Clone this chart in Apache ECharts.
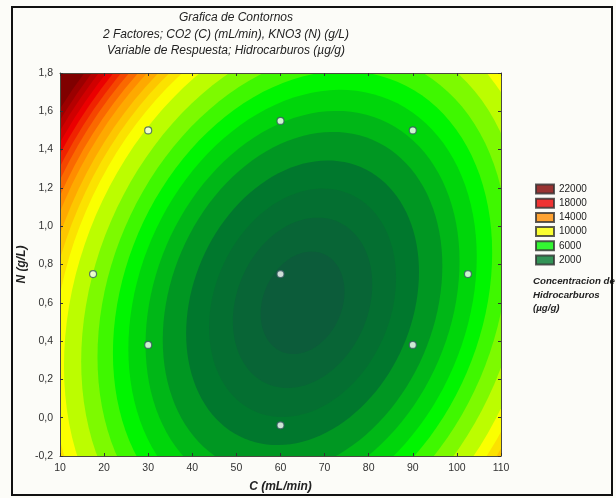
<!DOCTYPE html>
<html>
<head>
<meta charset="utf-8">
<script src="https://cdn.jsdelivr.net/npm/echarts@6/dist/echarts.min.js"></script>
<style>
  html, body { margin: 0; padding: 0; background: #ffffff; }
  #chart { width: 616px; height: 498px; }
</style>
</head>
<body>
<div id="chart"></div>
<script>
// Experimental design points: CO2 flow C (mL/min) and KNO3 dose N (g/L)
const designC = [30, 60, 90, 17.5, 60, 102.5, 30, 90, 60];
const designN = [1.50, 1.55, 1.50, 0.75, 0.75, 0.75, 0.38, 0.38, -0.04];

// Contour levels of the hydrocarbon response (µg/g) and the half-width of each
// contour ellipse, measured along C (mL/min)
const contourLevels = [0, 1000, 2000, 3000, 4000, 5000, 6000, 7000, 8000, 9000, 10000,
  11000, 12000, 13000, 14000, 15000, 16000, 17000, 18000, 19000, 20000, 21000, 22000];
const contourReach = [9.5, 15.8, 21.2, 26.4, 31.7, 35.6, 39.5, 43.0, 46.5, 50.2, 54.1,
  56.7, 58.7, 60.5, 62.4, 63.9, 65.5, 66.9, 68.3, 69.6, 71.0, 72.3, 73.7];

// Shared shape of the nested contour ellipses
const contourCenter = [65, 0.6];       // (C, N) of the minimum
const contourHeightPerReach = 0.02815; // N half-height per unit of C half-width
const contourPhaseDeg = 77.5;          // tilt phase of the ellipses

// Legend levels
const legendLevels = [22000, 18000, 14000, 10000, 6000, 2000];

// Colour scale anchors (value -> rgb)
const colorStops = [-1000, 2000, 6000, 10000, 14000, 18000, 22000];
const colorRGB = [[12, 92, 58], [0, 120, 45], [0, 245, 0], [250, 255, 0],
  [255, 140, 0], [235, 0, 0], [128, 0, 0]];

function colorAt(v) {
  if (v <= colorStops[0]) return rgb(colorRGB[0]);
  for (let i = 1; i < colorStops.length; i++) {
    if (v <= colorStops[i]) {
      const f = (v - colorStops[i - 1]) / (colorStops[i] - colorStops[i - 1]);
      const a = colorRGB[i - 1], b = colorRGB[i];
      return rgb([a[0] + (b[0] - a[0]) * f, a[1] + (b[1] - a[1]) * f, a[2] + (b[2] - a[2]) * f]);
    }
  }
  return rgb(colorRGB[colorRGB.length - 1]);
}
function rgb(c) {
  return 'rgb(' + Math.round(c[0]) + ',' + Math.round(c[1]) + ',' + Math.round(c[2]) + ')';
}

const FONT = '"Liberation Sans", Arial, sans-serif';
const chart = echarts.init(document.getElementById('chart'), null, { renderer: 'canvas' });

// Outer contours first so that inner ones paint over them
const contourData = contourLevels
  .map((lv, i) => [contourReach[i], contourCenter[1], lv])
  .sort((a, b) => b[2] - a[2]);

const axisLineStyle = { show: true, onZero: false, lineStyle: { color: '#4a4a40', width: 1 } };
const tickStyle = { show: true, inside: true, length: 3, lineStyle: { color: '#333', width: 1 } };
const axisNameStyle = { fontFamily: FONT, fontSize: 12, fontStyle: 'italic', fontWeight: 'bold', color: '#222' };

const legendSeries = legendLevels.map(lv => ({
  name: String(lv),
  type: 'scatter',
  data: [],
  itemStyle: { color: colorAt(lv), borderColor: '#333', borderWidth: 0.8 }
}));

const titleFont = 'italic 12px ' + FONT;
const captionFont = 'italic bold 9.7px ' + FONT;

const option = {
  animation: false,
  backgroundColor: '#fcfcf8',
  grid: {
    left: 60, top: 73, right: 115, bottom: 40,
    show: true, backgroundColor: colorAt(22000), borderWidth: 0
  },
  xAxis: [
    {
      type: 'value', position: 'bottom', min: 10, max: 110, interval: 10, z: 5,
      axisLine: axisLineStyle, axisTick: tickStyle, splitLine: { show: false },
      axisLabel: { fontFamily: FONT, fontSize: 10.5, color: '#333', margin: 7 },
      name: 'C (mL/min)', nameLocation: 'middle', nameGap: 25, nameMoveOverlap: false,
      nameTextStyle: axisNameStyle
    },
    {
      type: 'value', position: 'top', min: 10, max: 110, interval: 10, z: 5,
      axisLine: axisLineStyle, axisTick: tickStyle, splitLine: { show: false },
      axisLabel: { show: false }
    }
  ],
  yAxis: [
    {
      type: 'value', position: 'left', min: -0.2, max: 1.8, interval: 0.2, z: 5,
      axisLine: axisLineStyle, axisTick: tickStyle, splitLine: { show: false },
      axisLabel: {
        fontFamily: FONT, fontSize: 10.5, color: '#333', margin: 7,
        formatter: v => v.toFixed(1).replace('.', ',')
      },
      name: 'N (g/L)', nameLocation: 'middle', nameGap: 32, nameRotate: 90, nameMoveOverlap: false,
      nameTextStyle: axisNameStyle
    },
    {
      type: 'value', position: 'right', min: -0.2, max: 1.8, interval: 0.2, z: 5,
      axisLine: axisLineStyle, axisTick: tickStyle, splitLine: { show: false },
      axisLabel: { show: false }
    }
  ],
  legend: {
    orient: 'vertical', left: 535, top: 183.5, padding: 0,
    itemWidth: 18, itemHeight: 9, itemGap: 3.2,
    icon: 'rect', selectedMode: false,
    data: legendLevels.map(String),
    textStyle: { fontFamily: FONT, fontSize: 10, color: '#222' }
  },
  graphic: [
    {
      type: 'group', silent: true, children: [
        { type: 'text', x: 236, y: 18, style: { text: 'Grafica de Contornos', font: titleFont, fill: '#222', align: 'center', verticalAlign: 'middle' } },
        { type: 'text', x: 226, y: 35, style: { text: '2 Factores; CO2 (C) (mL/min), KNO3 (N) (g/L)', font: titleFont, fill: '#222', align: 'center', verticalAlign: 'middle' } },
        { type: 'text', x: 226, y: 51, style: { text: 'Variable de Respuesta; Hidrocarburos (µg/g)', font: titleFont, fill: '#222', align: 'center', verticalAlign: 'middle' } },
        { type: 'text', x: 533, y: 281, style: { text: 'Concentracion de', font: captionFont, fill: '#222', verticalAlign: 'middle' } },
        { type: 'text', x: 533, y: 295, style: { text: 'Hidrocarburos', font: captionFont, fill: '#222', verticalAlign: 'middle' } },
        { type: 'text', x: 533, y: 308, style: { text: '(µg/g)', font: captionFont, fill: '#222', verticalAlign: 'middle' } },
        { type: 'rect', shape: { x: 12, y: 7, width: 600, height: 488 }, style: { fill: 'none', stroke: '#111', lineWidth: 2 } }
      ]
    }
  ],
  series: [
    {
      type: 'custom',
      name: 'contornos',
      coordinateSystem: 'cartesian2d',
      clip: true,
      z: 1,
      silent: true,
      encode: { x: 0, y: 1 },
      data: contourData,
      renderItem: function (params, api) {
        const reach = api.value(0);
        const level = api.value(2);
        const half = reach * contourHeightPerReach;
        const ph = contourPhaseDeg * Math.PI / 180;
        const pts = [];
        const n = 120;
        for (let i = 0; i < n; i++) {
          const t = (i / n) * 2 * Math.PI;
          pts.push(api.coord([
            contourCenter[0] + reach * Math.cos(t),
            contourCenter[1] + half * Math.cos(t - ph)
          ]));
        }
        return {
          type: 'polygon',
          shape: { points: pts },
          style: { fill: colorAt(level - 1000), stroke: null }
        };
      }
    },
    {
      type: 'scatter',
      name: 'diseño',
      z: 4,
      symbol: 'circle',
      symbolSize: 7,
      silent: true,
      data: designC.map((c, i) => [c, designN[i]]),
      itemStyle: { color: '#ffffff', borderColor: '#3c5a64', borderWidth: 1.2 }
    }
  ].concat(legendSeries)
};
chart.setOption(option);
</script>
</body>
</html>
